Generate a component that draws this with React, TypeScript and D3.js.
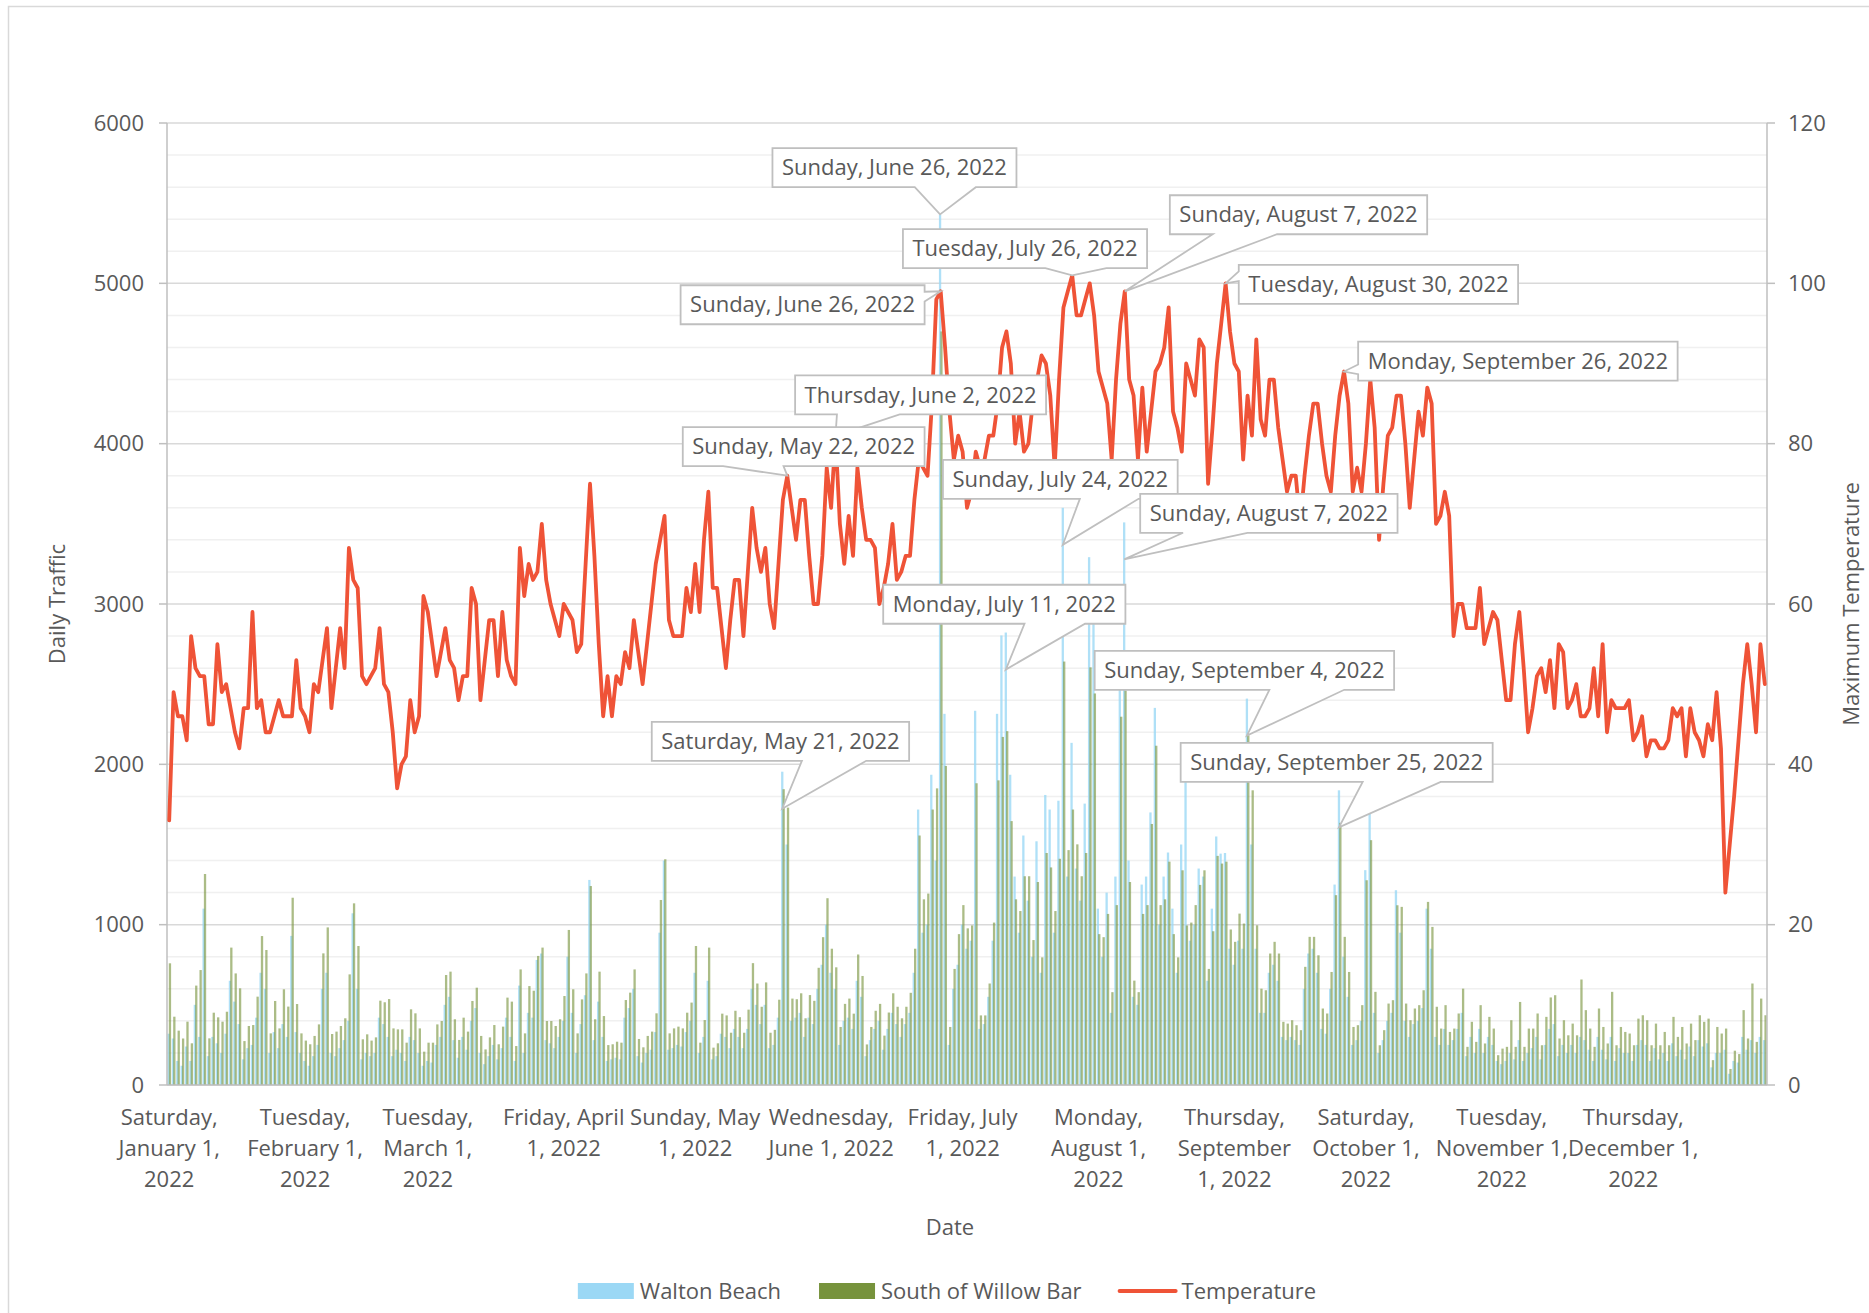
import React, { useMemo } from "react";
import * as d3 from "d3";

const WIDTH = 1869;
const HEIGHT = 1313;

// Categories: every day of 2022 (index 0 = Jan 1)
const yearStart = new Date(2022, 0, 1);
const yearEnd = new Date(2023, 0, 1);

// Daily traffic, South of Willow Bar (Jan..Dec, one row per month)
const southOfWillowBar = [
  759,426,339,290,395,260,620,717,1316,291,451,422,395,457,857,696,603,274,368,374,551,929,842,322,524,353,597,489,1168,505,322,
  277,254,306,378,821,983,318,333,368,416,690,1133,867,285,316,277,297,526,516,536,353,347,347,264,472,447,353,208,
  264,264,378,399,686,707,410,281,420,333,524,607,306,222,297,374,254,364,545,520,243,721,322,617,588,805,857,399,399,368,410,
  555,967,597,322,534,696,1241,410,707,430,249,254,270,264,530,576,721,287,235,306,333,447,1154,1408,322,353,364,353,451,514,
  867,264,405,857,233,260,445,434,326,463,423,326,470,760,633,488,640,326,344,532,1845,1730,539,535,572,416,561,525,731,922,1165,
  850,734,362,506,539,445,814,680,253,362,463,506,308,452,572,488,416,488,575,850,1556,1158,1194,1718,1850,4700,1990,362,724,941,
  1122,977,995,1882,434,434,633,1013,1900,2171,2207,1646,1158,1085,1302,1302,904,1266,796,1447,1357,1085,1411,2641,1465,1718,1501,1302,1447,2605,2442,
  941,922,1067,579,1122,2297,2460,1266,651,579,1067,1122,1628,2116,1122,1158,1393,941,796,1339,995,1013,1122,1248,1339,724,959,1429,1381,1393,970,
  893,1069,1007,2181,1838,996,601,591,820,893,820,394,383,404,373,342,737,924,924,809,477,446,705,1184,1635,924,705,362,373,498,
  1277,1527,581,248,342,508,529,1121,1111,508,404,477,498,591,1142,986,488,352,498,331,352,446,601,238,394,269,498,259,425,352,186,
  227,238,404,238,518,238,352,352,446,248,425,546,560,290,404,310,383,310,658,467,352,238,477,362,259,581,248,362,331,321,
  248,414,435,404,248,383,248,331,248,425,300,362,259,383,280,435,394,414,155,362,321,352,100,214,193,467,290,633,269,539,435,
];

// Daily traffic, Walton Beach
const waltonBeach = [
  320,290,150,120,240,150,500,300,1100,180,300,260,200,320,650,520,380,160,230,250,420,700,600,200,330,230,380,300,930,330,200,
  150,120,180,250,600,700,200,180,230,280,400,1071,600,160,200,180,200,420,380,300,180,220,200,150,300,280,200,120,
  150,140,250,300,500,550,280,170,300,220,400,480,200,130,180,250,160,230,420,300,150,620,200,450,420,780,820,280,260,230,300,
  400,800,450,200,380,560,1279,280,520,300,150,160,170,160,420,480,600,180,140,200,220,330,950,1400,220,230,250,240,330,400,
  700,200,300,650,160,180,320,300,230,350,300,230,350,600,500,380,500,230,250,420,1954,1500,400,420,450,300,420,380,600,750,1000,
  700,600,250,400,420,350,650,550,180,280,350,400,220,350,450,380,300,380,450,700,1718,950,1000,1935,1400,5430,2315,250,600,750,
  1000,850,900,2334,350,380,550,900,2315,2804,2822,1935,1300,950,1556,1150,800,1520,700,1809,1718,950,1773,3600,1300,2134,1350,1150,1755,3292,2894,
  1100,800,1200,450,1300,2496,3509,1400,550,500,1250,1300,1700,2352,1000,1300,1450,1100,700,1500,1900,900,1000,1350,1300,650,1100,1550,1443,1447,850,
  750,900,850,2410,1500,850,450,450,700,750,650,300,280,300,280,250,600,820,850,700,350,320,600,1250,1838,800,550,250,280,400,
  1340,1755,450,200,280,400,450,1215,950,400,300,380,400,480,1100,850,300,250,350,250,280,350,450,180,300,200,350,200,300,250,150,
  130,150,200,160,280,150,200,230,300,160,250,350,380,180,250,200,250,200,300,280,220,150,300,220,160,300,150,230,200,200,
  150,250,280,250,150,230,160,200,150,260,180,220,160,240,180,280,240,260,110,200,200,220,70,150,140,300,220,280,200,300,280,
];

// Maximum temperature
const maxTemperature = [
  33,49,46,46,43,56,52,51,51,45,45,55,49,50,47,44,42,47,47,59,47,48,44,44,46,48,46,46,46,53,47,
  46,44,50,49,53,57,47,52,57,52,67,63,62,51,50,51,52,57,50,49,44,37,40,41,48,44,46,61,
  59,55,51,54,57,53,52,48,51,51,62,60,48,53,58,58,51,59,53,51,50,67,61,65,63,64,70,63,60,58,56,
  60,59,58,54,55,65,75,66,55,46,51,46,51,50,54,52,58,54,50,55,60,65,68,71,58,56,56,56,62,59,
  65,59,68,74,62,62,57,52,58,63,63,56,64,72,67,64,67,60,57,65,73,76,72,68,73,73,66,60,60,66,77,
  72,81,70,65,71,66,77,72,68,68,67,60,62,65,70,63,64,66,66,73,78,77,76,85,98,99,92,84,78,81,
  79,72,74,79,77,78,81,81,85,92,94,90,80,84,79,80,85,88,91,90,86,77,88,97,99,101,96,96,98,100,96,
  89,87,85,78,88,95,99,88,86,78,87,79,84,89,90,92,97,84,82,79,90,88,86,93,92,75,82,90,95,100,94,
  90,89,78,86,81,93,83,81,88,88,82,78,74,76,76,70,76,81,85,85,80,76,74,81,86,89,85,74,77,74,
  80,88,82,68,75,81,82,86,86,80,72,78,84,81,87,85,70,71,74,71,56,60,60,57,57,57,62,55,57,59,58,
  53,48,48,55,59,52,44,47,51,52,49,53,47,55,54,47,48,50,46,46,47,52,46,55,44,48,47,47,47,48,
  43,44,46,41,43,43,42,42,43,47,46,47,41,47,44,43,41,45,43,49,42,24,30,36,43,50,55,50,44,55,50,
];

const trafficTicks = [0, 1000, 2000, 3000, 4000, 5000, 6000];
const tempTicks = [0, 20, 40, 60, 80, 100, 120];

const dateTickLabels = [
  ["Saturday,", "January 1,", "2022"],
  ["Tuesday,", "February 1,", "2022"],
  ["Tuesday,", "March 1,", "2022"],
  ["Friday, April", "1, 2022"],
  ["Sunday, May", "1, 2022"],
  ["Wednesday,", "June 1, 2022"],
  ["Friday, July", "1, 2022"],
  ["Monday,", "August 1,", "2022"],
  ["Thursday,", "September", "1, 2022"],
  ["Saturday,", "October 1,", "2022"],
  ["Tuesday,", "November 1,", "2022"],
  ["Thursday,", "December 1,", "2022"],
];

const legendItems = [
  { label: "Walton Beach", kind: "bar", color: "#9BD8F5" },
  { label: "South of Willow Bar", kind: "bar", color: "#77933C" },
  { label: "Temperature", kind: "line", color: "#EF5337" },
];

// Data callouts: day index, series; box centre offset from the tip (px); tip drop (px)
const callouts = [
  { day: 176, series: "walton", dx: -45.6, dy: -46.7, drop: 0 },
  { day: 206, series: "temp", dx: -47.2, dy: -26.6, drop: 0 },
  { day: 218, series: "temp", dx: 173.7, dy: -76.6, drop: 0 },
  { day: 176, series: "temp", dx: -138.1, dy: 13.4, drop: 0 },
  { day: 241, series: "temp", dx: 152.8, dy: 1, drop: 0 },
  { day: 268, series: "temp", dx: 173.9, dy: -10.3, drop: 0 },
  { day: 152, series: "temp", dx: 85.1, dy: -40.8, drop: 0 },
  { day: 141, series: "temp", dx: 16.4, dy: -29.1, drop: 0 },
  { day: 204, series: "walton", dx: -2.5, dy: -65.5, drop: 37 },
  { day: 218, series: "walton", dx: 144.7, dy: -46.1, drop: 37 },
  { day: 191, series: "walton", dx: -1.5, dy: -65.3, drop: 37 },
  { day: 246, series: "walton", dx: -2.5, dy: -65.3, drop: 37 },
  { day: 267, series: "walton", dx: -2.3, dy: -65, drop: 37 },
  { day: 140, series: "walton", dx: -1.8, dy: -67.4, drop: 37 },
];

const FONT = "'Open Sans', 'Noto Sans', sans-serif";
const FS = 22;
const TEXT = "#595959";
const RED = "#EF5337";
const BLUE = "#9BD8F5";
const GREEN = "#77933C";

let ctx: CanvasRenderingContext2D | null = null;
function measure(text: string): number {
  if (!ctx) {
    const c = document.createElement("canvas");
    ctx = c.getContext("2d");
  }
  if (!ctx) return text.length * FS * 0.5;
  ctx.font = `${FS}px 'Open Sans'`;
  return ctx.measureText(text).width;
}

function calloutPath(x0: number, y0: number, w: number, h: number, tx: number, ty: number) {
  const hc = x0 + w / 2;
  const vc = y0 + h / 2;
  const dxPos = tx - hc;
  const dyPos = ty - vc;
  const dx = (dxPos * h) / w;
  const dz = Math.abs(dx) - Math.abs(dyPos);
  const x1 = x0 + (w * (dxPos > 0 ? 7 : 2)) / 12;
  const x2 = x0 + (w * (dxPos > 0 ? 10 : 5)) / 12;
  const y1 = y0 + (h * (dyPos > 0 ? 7 : 2)) / 12;
  const y2 = y0 + (h * (dyPos > 0 ? 10 : 5)) / 12;
  const r = x0 + w;
  const b = y0 + h;
  const pts: number[][] = [];
  pts.push([x0, y0]);
  if (dz <= 0 && dyPos < 0) pts.push([x1, y0], [tx, ty], [x2, y0]);
  pts.push([r, y0]);
  if (dz > 0 && dxPos > 0) pts.push([r, y1], [tx, ty], [r, y2]);
  pts.push([r, b]);
  if (dz <= 0 && dyPos > 0) pts.push([x2, b], [tx, ty], [x1, b]);
  pts.push([x0, b]);
  if (dz > 0 && dxPos < 0) pts.push([x0, y2], [tx, ty], [x0, y1]);
  return "M" + pts.map((p) => p.join(",")).join("L") + "Z";
}

export default function App() {
  const left = 167;
  const right = 1767;
  const top = 123;
  const bottom = 1085;

  const days = useMemo(() => d3.timeDay.range(yearStart, yearEnd), []);
  const idx = d3.range(days.length);
  const x = d3.scaleBand<number>().domain(idx).range([left, right]).paddingInner(0).paddingOuter(0);
  const bw = x.bandwidth();
  const yL = d3.scaleLinear().domain([0, 6000]).range([bottom, top]);
  const yR = d3.scaleLinear().domain([0, 120]).range([bottom, top]);

  const monthStarts = d3.timeMonth.range(yearStart, yearEnd).map((m) => d3.timeDay.count(yearStart, m));
  const fmt = d3.timeFormat("%A, %B %-d, %Y");

  const tempLine = d3
    .line<number>()
    .x((_, i) => (x(i) as number) + bw / 2)
    .y((t) => yR(t))(maxTemperature) as string;

  const minorTicks = d3.range(200, 6000, 200).filter((v) => v % 1000 !== 0);

  const wOff = 0.4, gOff = 1.8, barW = 2.3;

  const calloutShapes = callouts.map((c) => {
    let tx: number, ty: number;
    if (c.series === "temp") {
      tx = (x(c.day) as number) + bw / 2;
      ty = yR(maxTemperature[c.day]);
    } else if (c.series === "walton") {
      tx = (x(c.day) as number) + wOff + barW / 2;
      ty = yL(waltonBeach[c.day]) + c.drop;
    } else {
      tx = (x(c.day) as number) + gOff + barW / 2;
      ty = yL(southOfWillowBar[c.day]) + c.drop;
    }
    const text = fmt(days[c.day]);
    const tw = measure(text);
    const w = tw + 19;
    const h = 39;
    const cx = tx + c.dx;
    const cy = ty + c.dy;
    const x0 = cx - w / 2;
    const y0 = cy - h / 2;
    return { path: calloutPath(x0, y0, w, h, tx, ty), text, cx, cy };
  });

  // legend layout
  const swW = 56;
  const legendWidths = legendItems.map((it) => swW + 6 + measure(it.label));
  const legendTotal = d3.sum(legendWidths) + 38 * (legendItems.length - 1);
  let lx = 947 - legendTotal / 2;
  const legendPos = legendWidths.map((w) => {
    const p = lx;
    lx += w + 38;
    return p;
  });
  const legendY = 1291;

  return (
    <svg
      width={WIDTH}
      height={HEIGHT}
      viewBox={`0 0 ${WIDTH} ${HEIGHT}`}
      style={{ position: "absolute", left: 0, top: 0, background: "#fff", fontFamily: FONT }}
    >
      <rect x={0} y={0} width={WIDTH} height={HEIGHT} fill="#fff" />
      <rect x={8.5} y={6.5} width={2200} height={2200} fill="none" stroke="#d9d9d9" strokeWidth={1.5} />

      {/* minor gridlines */}
      {minorTicks.map((v) => (
        <line key={"mg" + v} x1={left} x2={right} y1={yL(v)} y2={yL(v)} stroke="#f0f0f0" strokeWidth={1.5} />
      ))}
      {/* major gridlines */}
      {trafficTicks.map((v) => (
        <line key={"g" + v} x1={left} x2={right} y1={yL(v)} y2={yL(v)} stroke="#d9d9d9" strokeWidth={1.5} />
      ))}

      {/* bars */}
      <g>
        {idx.map((i) => (
          <rect
            key={"w" + i}
            x={(x(i) as number) + wOff}
            y={yL(waltonBeach[i])}
            width={barW}
            height={bottom - yL(waltonBeach[i])}
            fill={BLUE}
            fillOpacity={0.8}
          />
        ))}
        {idx.map((i) => (
          <rect
            key={"g" + i}
            x={(x(i) as number) + gOff}
            y={yL(southOfWillowBar[i])}
            width={barW}
            height={bottom - yL(southOfWillowBar[i])}
            fill={GREEN}
            fillOpacity={0.62}
          />
        ))}
      </g>

      {/* axes */}
      <line x1={left} x2={left} y1={top} y2={bottom} stroke="#bfbfbf" strokeWidth={1.5} />
      <line x1={right} x2={right} y1={top} y2={bottom} stroke="#bfbfbf" strokeWidth={1.5} />
      <line x1={left} x2={right} y1={bottom} y2={bottom} stroke="#bfbfbf" strokeWidth={1.5} />
      {trafficTicks.map((v) => (
        <line key={"lt" + v} x1={left - 8} x2={left} y1={yL(v)} y2={yL(v)} stroke="#bfbfbf" strokeWidth={1.5} />
      ))}
      {tempTicks.map((v) => (
        <line key={"rt" + v} x1={right} x2={right + 8} y1={yR(v)} y2={yR(v)} stroke="#bfbfbf" strokeWidth={1.5} />
      ))}

      {/* temperature line */}
      <path d={tempLine} fill="none" stroke={RED} strokeWidth={3.8} strokeLinejoin="round" strokeLinecap="round" />

      {/* callouts */}
      {calloutShapes.map((c, k) => (
        <g key={"c" + k}>
          <path d={c.path} fill="#fff" stroke="#bfbfbf" strokeWidth={1.8} strokeLinejoin="miter" />
          <text x={c.cx} y={c.cy + 7.7} textAnchor="middle" fontSize={FS} fill={TEXT}>
            {c.text}
          </text>
        </g>
      ))}

      {/* y tick labels */}
      {trafficTicks.map((v) => (
        <text key={"ll" + v} x={144} y={yL(v) + 7.7} textAnchor="end" fontSize={FS} fill={TEXT}>
          {v}
        </text>
      ))}
      {tempTicks.map((v) => (
        <text key={"rl" + v} x={1788} y={yR(v) + 7.7} textAnchor="start" fontSize={FS} fill={TEXT}>
          {v}
        </text>
      ))}

      {/* x tick labels */}
      {monthStarts.map((d, k) => (
        <text key={"xl" + k} textAnchor="middle" fontSize={FS} fill={TEXT}>
          {dateTickLabels[k].map((line, j) => (
            <tspan key={j} x={(x(d) as number) + bw / 2} y={1125 + j * 31}>
              {line}
            </tspan>
          ))}
        </text>
      ))}

      {/* axis titles */}
      <text transform="translate(57,604) rotate(-90)" textAnchor="middle" dy="0.35em" fontSize={FS} fill={TEXT}>
        Daily Traffic
      </text>
      <text transform="translate(1851,604) rotate(-90)" textAnchor="middle" dy="0.35em" fontSize={FS} fill={TEXT}>
        Maximum Temperature
      </text>
      <text x={950} y={1235} textAnchor="middle" fontSize={FS} fill={TEXT}>
        Date
      </text>

      {/* legend */}
      {legendItems.map((it, k) => (
        <g key={"lg" + k}>
          {it.kind === "bar" ? (
            <rect x={legendPos[k]} y={legendY - 8} width={swW} height={16} fill={it.color} />
          ) : (
            <line
              x1={legendPos[k]}
              x2={legendPos[k] + swW}
              y1={legendY}
              y2={legendY}
              stroke={it.color}
              strokeWidth={4}
              strokeLinecap="round"
            />
          )}
          <text x={legendPos[k] + swW + 6} y={legendY + 7.7} fontSize={FS} fill={TEXT}>
            {it.label}
          </text>
        </g>
      ))}
    </svg>
  );
}
